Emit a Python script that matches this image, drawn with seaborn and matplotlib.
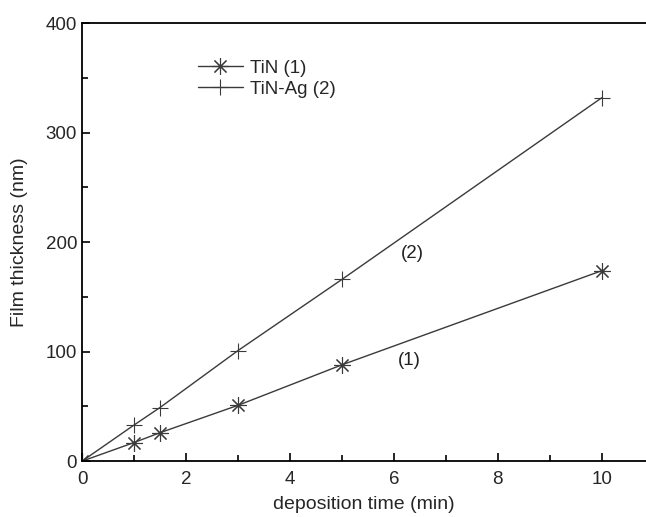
import numpy as np
import matplotlib
matplotlib.use('Agg')
import matplotlib.pyplot as plt
import seaborn as sns
import pandas as pd
from matplotlib.ticker import MultipleLocator

# values
time_min = [0, 1, 1.5, 3, 5, 10]
tin = [0, 17, 26, 51, 88, 174]
tin_ag = [0, 33, 49, 101, 166, 332]

sns.set_style('white')
plt.rcParams['font.family'] = ['Liberation Sans', 'DejaVu Sans']

df = pd.DataFrame({'time': time_min * 2,
                   'thickness': tin + tin_ag,
                   'film': ['TiN (1)'] * len(tin) + ['TiN-Ag (2)'] * len(tin_ag)})

fig = plt.figure(figsize=(6.46, 5.17), dpi=100)
ax = fig.add_axes([0.127, 0.108, 0.873, 0.847])

col = '#3a3a3a'
markers = {'TiN (1)': (8, 2, 0), 'TiN-Ag (2)': '+'}
for name, grp in df.groupby('film'):
    sns.lineplot(data=grp, x='time', y='thickness', ax=ax, color=col,
                 marker=markers[name], markersize=12, markeredgewidth=0.8,
                 markeredgecolor=col, linewidth=1.0, label=name)

ax.set_xlim(0, 10.85)
ax.set_ylim(0, 400)
ax.xaxis.set_major_locator(MultipleLocator(2))
ax.xaxis.set_minor_locator(MultipleLocator(1))
ax.yaxis.set_major_locator(MultipleLocator(100))
ax.yaxis.set_minor_locator(MultipleLocator(50))
ax.tick_params(which='both', direction='in', color='black', labelsize=13.5,
               top=False, right=False, bottom=True, left=True)
ax.tick_params(which='major', length=6, width=1.2)
ax.tick_params(which='minor', length=4, width=1.2)
ax.tick_params(axis='x', pad=7)
for s in ['left', 'bottom', 'top']:
    ax.spines[s].set_color('black')
    ax.spines[s].set_linewidth(1.3)
ax.spines['right'].set_visible(False)

ax.set_xlabel('deposition time (min)', fontsize=14, labelpad=6)
ax.set_ylabel('Film thickness (nm)', fontsize=14, labelpad=13)

ax.text(6.35, 190, '(2)', fontsize=13.5, ha='center', va='center', color='#222222')
ax.text(6.3, 92, '(1)', fontsize=13.5, ha='center', va='center', color='#222222')

leg = ax.legend(loc='upper left', bbox_to_anchor=(0.175, 0.955), frameon=False,
                fontsize=13.5, handlelength=2.4, handletextpad=0.4, labelspacing=0.2)

fig.savefig('out.png', dpi=100)
